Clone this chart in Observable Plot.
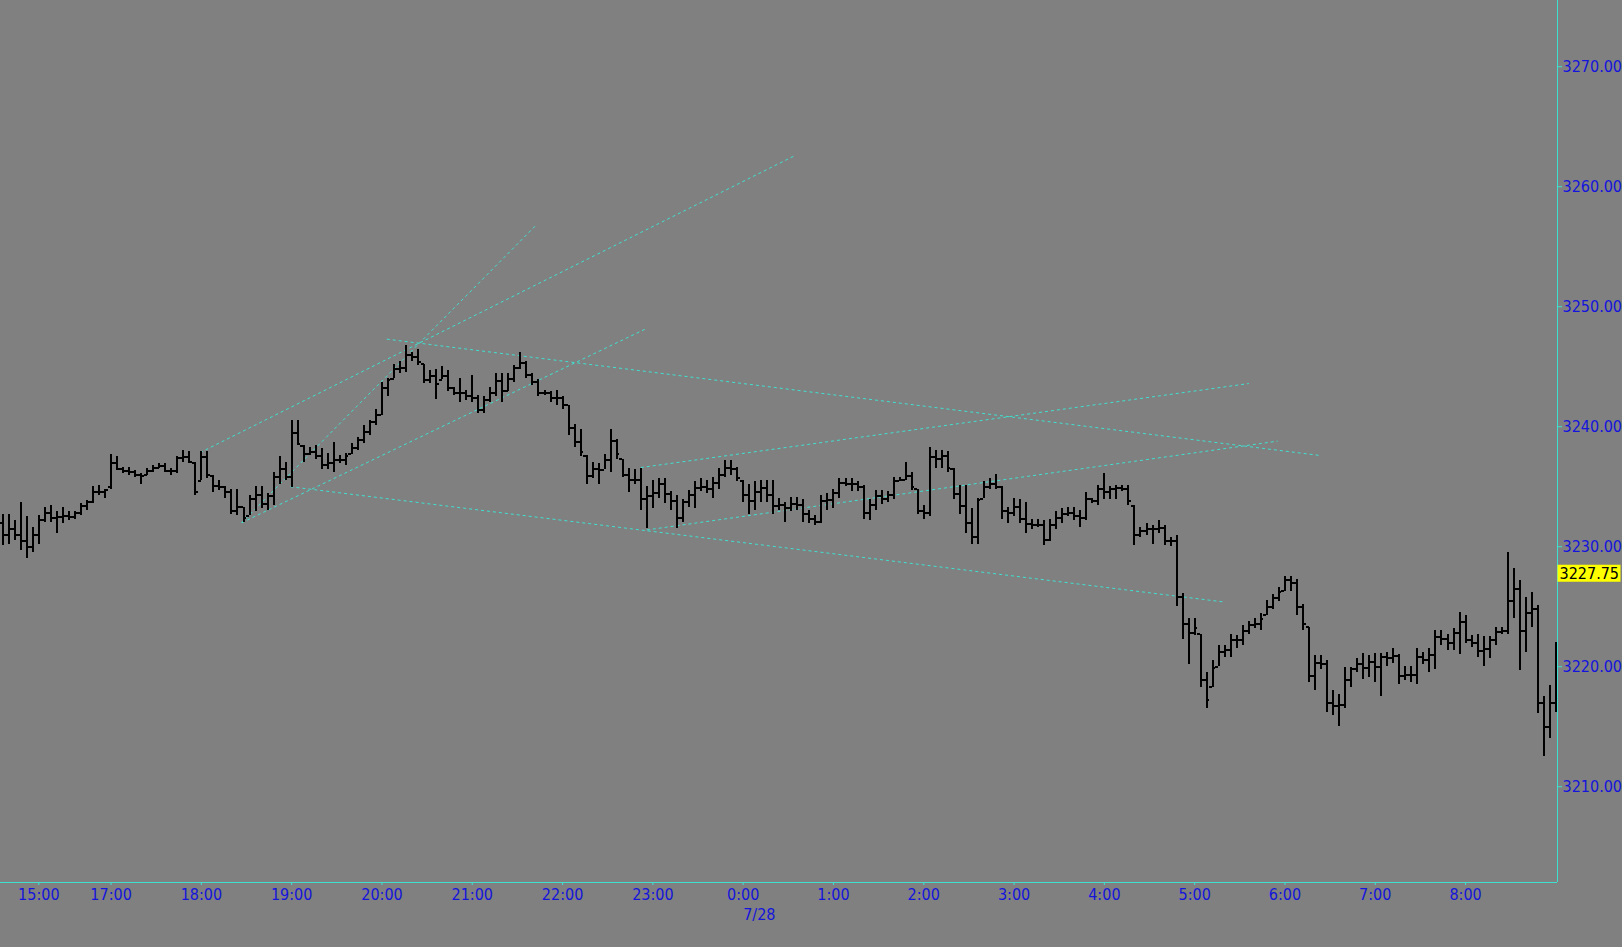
<!DOCTYPE html>
<html><head><meta charset="utf-8">
<script src="https://cdn.jsdelivr.net/npm/d3@7"></script>
<script src="https://cdn.jsdelivr.net/npm/@observablehq/plot@0.6"></script>
<style>
html,body{margin:0;padding:0;background:#808080;overflow:hidden}
#chart svg{display:block}
</style></head><body><div id="chart"></div>
<script>
// 4-minute OHLC bars, bar index 0..258
const high = [
3232.7,3232.7,3232.2,3233.7,3232.5,3231.6,3232.6,3233.3,3233.4,3232.9,
3233.3,3232.9,3232.9,3233.6,3233.85,3235.0,3235.1,3234.8,3237.7,3237.5,
3236.6,3236.6,3236.35,3236.1,3236.5,3236.8,3236.9,3236.9,3236.5,3237.5,
3238.0,3237.9,3237.05,3237.9,3237.9,3235.9,3235.5,3235.0,3234.8,3234.8,
3233.3,3234.3,3235.0,3235.0,3234.4,3236.2,3237.5,3237.0,3240.5,3240.5,
3238.4,3238.3,3238.4,3238.2,3237.8,3238.7,3237.6,3237.8,3238.6,3239.1,
3240.1,3240.5,3241.4,3243.7,3244.0,3245.2,3245.4,3246.8,3246.2,3246.4,
3245.2,3244.7,3244.8,3245.0,3244.7,3243.3,3244.0,3243.0,3244.3,3242.6,
3242.5,3243.3,3244.4,3244.4,3244.4,3245.1,3246.2,3245.4,3244.4,3243.9,
3243.0,3242.9,3243.0,3242.5,3241.8,3240.2,3239.8,3237.6,3237.0,3236.9,
3237.7,3239.8,3238.9,3237.3,3236.5,3236.4,3236.5,3235.0,3235.5,3235.7,
3235.7,3234.6,3234.3,3233.9,3234.7,3235.4,3235.7,3235.5,3235.8,3236.5,
3237.2,3237.2,3236.6,3235.5,3235.2,3235.4,3235.5,3235.5,3235.5,3234.0,
3233.7,3234.1,3234.1,3233.9,3233.0,3232.6,3234.3,3234.4,3234.8,3235.7,
3235.7,3235.7,3235.4,3235.1,3233.9,3234.7,3234.7,3234.6,3235.8,3235.8,
3237.0,3236.2,3234.8,3233.4,3238.3,3238.0,3238.0,3237.9,3236.5,3235.1,
3235.1,3233.2,3234.0,3235.4,3235.7,3236.0,3235.0,3233.3,3234.0,3233.9,
3233.7,3232.3,3232.3,3232.2,3232.3,3232.9,3233.2,3233.3,3233.3,3233.0,
3234.5,3234.0,3235.1,3236.1,3235.0,3235.1,3235.1,3235.1,3233.4,3231.6,
3231.9,3231.8,3232.2,3231.8,3230.8,3230.9,3226.1,3224.0,3224.0,3222.7,
3219.5,3220.5,3221.8,3221.8,3222.7,3222.6,3223.4,3223.8,3224.0,3224.4,
3225.5,3226.0,3226.6,3227.5,3227.5,3227.3,3225.2,3223.3,3220.9,3220.9,
3220.5,3218.0,3217.7,3219.9,3219.9,3220.7,3221.1,3220.9,3221.1,3221.1,
3221.2,3221.5,3221.0,3220.0,3220.0,3221.5,3221.2,3221.5,3223.0,3223.0,
3222.7,3223.2,3224.5,3224.3,3222.6,3222.7,3222.5,3222.5,3223.3,3223.3,
3229.5,3228.2,3227.2,3225.8,3226.2,3225.1,3217.5,3218.4,3222.0
];
const low = [
3230.1,3230.2,3230.5,3229.7,3229.0,3229.5,3230.2,3232.0,3232.0,3231.1,
3231.9,3232.2,3232.3,3232.6,3233.0,3233.6,3234.3,3234.0,3234.8,3236.35,
3236.1,3235.9,3235.8,3235.2,3235.9,3236.2,3236.5,3236.2,3235.9,3236.1,
3237.05,3236.9,3234.3,3235.5,3235.7,3234.55,3234.7,3234.0,3232.7,3232.6,
3232.0,3232.6,3232.9,3233.2,3233.0,3233.4,3235.2,3235.5,3234.9,3238.4,
3237.05,3237.6,3237.3,3236.4,3236.4,3236.2,3236.9,3236.8,3237.7,3238.0,
3238.6,3239.3,3240.1,3240.9,3242.5,3244.0,3244.4,3244.5,3245.4,3245.1,
3243.6,3243.6,3242.3,3243.9,3242.9,3242.6,3242.0,3242.2,3242.0,3241.1,
3241.1,3242.0,3242.5,3242.0,3242.9,3243.7,3244.8,3244.0,3243.4,3242.5,
3242.6,3242.0,3241.8,3241.4,3239.3,3238.3,3237.5,3235.2,3235.7,3235.2,
3236.4,3236.2,3237.3,3235.8,3234.5,3235.2,3233.0,3231.5,3233.2,3234.0,
3233.6,3233.0,3231.5,3232.0,3233.3,3233.2,3234.6,3234.4,3234.0,3234.8,
3235.8,3235.9,3235.4,3233.7,3232.7,3233.0,3233.7,3233.7,3232.7,3233.0,
3232.0,3232.9,3233.0,3232.0,3231.9,3231.8,3231.9,3233.0,3233.2,3234.0,
3235.0,3234.6,3234.6,3232.3,3232.2,3233.0,3233.5,3233.7,3233.9,3235.4,
3235.5,3234.7,3232.7,3232.3,3232.5,3236.5,3236.5,3236.2,3233.9,3232.7,
3231.1,3230.2,3230.2,3234.0,3234.8,3234.8,3232.3,3231.9,3232.5,3231.9,
3231.1,3231.4,3231.6,3230.1,3230.4,3231.4,3231.9,3232.5,3232.2,3231.6,
3232.2,3233.6,3233.4,3233.9,3233.9,3233.9,3234.6,3233.4,3230.1,3230.8,
3230.9,3230.2,3231.1,3230.1,3230.0,3225.0,3222.3,3220.2,3222.6,3218.3,
3216.5,3218.3,3220.0,3220.8,3220.8,3221.5,3221.8,3222.7,3223.2,3223.0,
3224.3,3224.8,3225.4,3226.3,3226.3,3224.3,3223.0,3218.7,3218.0,3219.8,
3216.2,3215.9,3215.0,3216.5,3218.3,3219.5,3218.9,3219.1,3218.7,3217.5,
3220.0,3220.3,3218.5,3218.85,3218.7,3218.5,3220.2,3219.5,3219.8,3221.8,
3221.35,3221.35,3221.0,3221.9,3221.6,3220.8,3220.0,3220.7,3221.8,3222.7,
3222.7,3224.0,3219.7,3221.2,3223.3,3216.1,3212.5,3214.0,3216.2
];
const open = [
3232.0,3231.0,3231.5,3231.0,3230.5,3230.0,3231.0,3232.2,3232.8,3232.4,
3232.5,3232.6,3232.5,3232.8,3233.4,3233.7,3234.6,3234.6,3235.0,3237.0,
3236.5,3236.3,3236.2,3236.0,3236.0,3236.3,3236.6,3236.7,3236.3,3236.3,
3237.4,3237.5,3237.0,3235.5,3237.5,3235.9,3235.1,3235.0,3234.6,3233.0,
3233.3,3232.6,3234.0,3234.3,3233.6,3234.2,3235.8,3236.5,3235.8,3239.5,
3238.4,3237.7,3237.9,3237.6,3236.8,3237.0,3237.2,3237.2,3237.7,3238.2,
3238.9,3239.6,3240.4,3241.0,3243.2,3244.0,3244.8,3244.9,3246.0,3245.8,
3245.2,3243.9,3244.2,3243.9,3244.2,3243.2,3242.8,3242.8,3242.6,3242.4,
3241.4,3242.2,3242.8,3243.8,3243.0,3244.0,3244.9,3245.3,3244.3,3243.7,
3242.8,3242.8,3242.4,3242.4,3241.8,3239.9,3238.7,3237.6,3235.9,3236.5,
3236.4,3237.2,3238.8,3237.3,3236.0,3235.6,3235.6,3234.0,3234.2,3234.5,
3235.2,3234.4,3233.8,3232.4,3233.7,3234.3,3234.9,3235.0,3234.8,3235.3,
3236.0,3236.6,3236.5,3235.5,3234.3,3233.8,3234.6,3234.9,3234.3,3233.4,
3233.5,3233.2,3233.6,3233.5,3232.7,3232.3,3232.1,3233.8,3233.9,3234.5,
3235.3,3235.2,3235.2,3235.0,3232.8,3233.5,3234.2,3234.0,3234.3,3235.5,
3235.6,3235.9,3234.8,3233.0,3232.8,3237.5,3237.3,3237.6,3236.5,3234.4,
3233.4,3232.0,3230.8,3234.0,3235.0,3235.2,3235.0,3233.0,3232.8,3233.3,
3232.3,3231.9,3231.8,3231.8,3230.6,3231.8,3232.4,3232.7,3232.8,3232.6,
3232.4,3234.0,3233.8,3234.8,3234.6,3234.8,3234.9,3234.8,3233.4,3231.0,
3231.3,3231.5,3231.5,3231.6,3230.5,3230.5,3225.8,3223.6,3222.8,3222.7,
3218.9,3218.3,3220.0,3221.2,3221.4,3222.2,3222.2,3223.0,3223.5,3223.6,
3224.3,3225.0,3225.7,3226.3,3227.2,3227.0,3225.0,3223.3,3219.2,3220.3,
3220.2,3217.0,3216.7,3216.8,3218.9,3219.8,3220.2,3219.9,3220.4,3220.0,
3220.8,3220.7,3220.9,3219.2,3219.3,3219.3,3220.8,3220.6,3221.0,3222.5,
3222.3,3222.0,3222.8,3223.7,3222.2,3222.0,3221.3,3221.5,3222.2,3222.9,
3223.0,3225.5,3226.5,3223.0,3224.5,3224.8,3217.0,3215.0,3217.0
];
const close = [
3231.0,3231.5,3231.0,3230.5,3230.0,3231.0,3232.2,3232.8,3232.4,3232.5,
3232.6,3232.5,3232.8,3233.4,3233.7,3234.6,3234.6,3234.7,3237.0,3236.5,
3236.3,3236.2,3236.0,3235.9,3236.3,3236.6,3236.7,3236.3,3236.3,3237.4,
3237.5,3237.1,3234.6,3237.5,3236.0,3235.1,3235.0,3234.6,3233.0,3233.3,
3232.4,3234.0,3234.3,3233.6,3234.2,3235.8,3236.5,3235.8,3239.5,3238.6,
3237.7,3237.9,3237.6,3236.8,3237.0,3237.2,3237.2,3237.6,3238.2,3238.9,
3239.6,3240.4,3241.0,3243.2,3243.9,3244.8,3244.9,3246.0,3245.8,3245.4,
3243.9,3244.2,3243.6,3244.2,3243.2,3242.8,3242.8,3242.6,3242.4,3241.4,
3242.2,3242.8,3243.8,3243.0,3244.0,3244.9,3245.3,3244.3,3243.7,3242.8,
3242.8,3242.4,3242.4,3241.8,3239.9,3238.7,3237.9,3235.9,3236.5,3236.4,
3237.2,3238.8,3237.7,3236.0,3235.6,3235.6,3234.0,3234.2,3234.5,3235.2,
3234.4,3233.8,3232.4,3233.7,3234.3,3234.9,3235.0,3234.8,3235.3,3236.0,
3236.6,3236.5,3235.7,3234.3,3233.8,3234.6,3234.9,3234.3,3233.4,3233.5,
3233.2,3233.6,3233.5,3232.7,3232.3,3232.1,3233.8,3233.9,3234.5,3235.3,
3235.2,3235.2,3235.0,3232.8,3233.5,3234.2,3234.0,3234.3,3235.5,3235.6,
3235.9,3235.0,3233.0,3232.8,3237.5,3237.3,3237.6,3236.6,3234.4,3233.4,
3232.0,3230.8,3233.9,3235.0,3235.2,3235.0,3233.0,3232.8,3233.3,3232.3,
3231.9,3231.8,3231.8,3230.6,3231.8,3232.4,3232.7,3232.8,3232.6,3232.4,
3234.0,3233.8,3234.8,3234.6,3234.8,3234.9,3234.8,3233.8,3231.0,3231.3,
3231.5,3231.5,3231.6,3230.5,3230.5,3225.8,3223.6,3222.8,3223.2,3218.9,
3217.2,3219.9,3221.2,3221.4,3222.2,3222.2,3223.0,3223.5,3223.6,3224.0,
3225.0,3225.7,3226.2,3227.2,3227.0,3225.0,3223.6,3219.2,3220.3,3220.2,
3217.0,3216.7,3216.8,3218.9,3219.8,3220.2,3219.9,3220.4,3220.0,3220.8,
3220.7,3220.9,3219.2,3219.3,3219.3,3220.8,3220.6,3221.0,3222.5,3222.3,
3222.0,3222.8,3223.7,3222.2,3222.0,3221.3,3221.5,3222.2,3222.9,3223.0,
3225.5,3226.5,3223.0,3224.5,3224.8,3217.0,3215.0,3217.0,3220.6
];

// time-axis tick labels (at bar index)
const tickBars   = [6, 18, 33, 48, 63, 78, 93, 108, 123, 138, 153, 168, 183, 198, 213, 228, 243];
const tickLabels = ["15:00","17:00","18:00","19:00","20:00","21:00","22:00","23:00","0:00","1:00","2:00","3:00","4:00","5:00","6:00","7:00","8:00"];
const dateBar = 123, dateLabel = "7/28";

// price axis
const priceTicks = [3210, 3220, 3230, 3240, 3250, 3260, 3270];
const lastPrice = 3227.75;

// hand-drawn trend lines (bar index, price)
const lineStartBar   = [32.8, 39.7, 39.7, 47.8, 63.8, 106.0, 107.0];
const lineStartPrice = [3237.85, 3232.0, 3232.0, 3235.0, 3247.3, 3236.6, 3231.4];
const lineEndBar     = [131.6, 88.6, 107.0, 202.8, 218.9, 207.0, 211.8];
const lineEndPrice   = [3262.6, 3256.8, 3248.2, 3225.4, 3237.6, 3243.6, 3238.8];

const bars = high.map((h, i) => ({k: i, high: h, low: low[i], open: open[i], close: close[i]}));
const lines = lineStartBar.map((b, i) => ({x1: b, y1: lineStartPrice[i], x2: lineEndBar[i], y2: lineEndPrice[i]}));

const xDomain = [-0.365, 258.27];
const yDomain = [3202.02, 3275.52];
const cyan = "#40e0d0", blue = "#1414dc";
const font = "'DejaVu Sans Condensed','DejaVu Sans',sans-serif";

const chart = Plot.plot({
  width: 1622, height: 947,
  marginLeft: 0, marginRight: 65, marginTop: 0, marginBottom: 65,
  style: {background: "#808080", fontFamily: font, fontSize: "16px"},
  x: {domain: xDomain},
  y: {domain: yDomain},
  marks: [
    Plot.link(lines, {x1: "x1", y1: "y1", x2: "x2", y2: "y2", stroke: cyan, strokeWidth: 1, strokeDasharray: "3,3"}),
    Plot.ruleX(bars, {x: "k", y1: "low", y2: "high", stroke: "#000", strokeWidth: 2, shapeRendering: "crispEdges"}),
    Plot.ruleY(bars, {y: "open", x1: d => d.k - 0.5, x2: "k", stroke: "#000", strokeWidth: 2, shapeRendering: "crispEdges"}),
    Plot.ruleY(bars, {y: "close", x1: "k", x2: d => d.k + 0.5, stroke: "#000", strokeWidth: 2, shapeRendering: "crispEdges"}),
    Plot.ruleX([xDomain[1]], {stroke: cyan, strokeWidth: 1}),
    Plot.ruleY([yDomain[0]], {stroke: cyan, strokeWidth: 1}),
    Plot.axisY({anchor: "right", ticks: priceTicks, tickFormat: d => d.toFixed(2), tickSize: 4, tickPadding: 1, stroke: cyan, fill: blue, label: null}),
    Plot.axisX({anchor: "bottom", ticks: tickBars, tickFormat: d => tickLabels[tickBars.indexOf(d)], tickSize: 3, tickPadding: 3, stroke: cyan, fill: blue, label: null}),
    Plot.text([dateLabel], {x: () => dateBar, y: () => yDomain[0], text: d => d, dy: 32, textAnchor: "start", fill: blue})
  ]
});

// current-price marker on the price axis
const svg = d3.select(chart);
const yp = chart.scale("y").apply(lastPrice);
const xr = chart.scale("x").apply(xDomain[1]);
svg.append("rect").attr("x", xr + 0.5).attr("y", yp - 8.5).attr("width", 63).attr("height", 17).attr("fill", "#ffff00");
svg.append("text").attr("x", xr + 2.5).attr("y", yp).attr("dy", "0.36em").attr("fill", "#000")
  .attr("text-anchor", "start")
  .style("font-family", font).style("font-size", "16px")
  .text(lastPrice.toFixed(2));

document.getElementById("chart").appendChild(chart);
</script>
</body></html>
